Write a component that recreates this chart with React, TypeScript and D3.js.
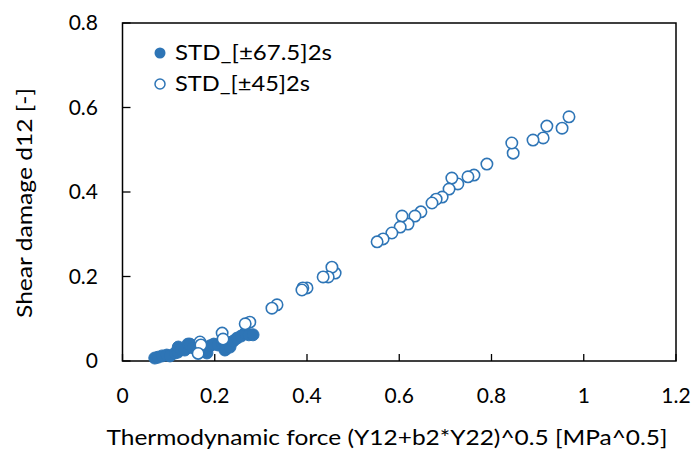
import React from "react";
import * as d3 from "d3";

const seriesNames = ["STD_[±67.5]2s", "STD_[±45]2s"];

// STD_[±67.5]2s (filled)
const filledX = [0.070, 0.077, 0.086, 0.096, 0.103, 0.114, 0.120, 0.121, 0.127, 0.135, 0.142, 0.146, 0.153, 0.168, 0.181, 0.183, 0.190, 0.198, 0.207, 0.216, 0.222, 0.224, 0.233, 0.240, 0.248, 0.257, 0.266, 0.274, 0.283];
const filledY = [0.007, 0.009, 0.012, 0.014, 0.012, 0.019, 0.021, 0.033, 0.028, 0.026, 0.040, 0.040, 0.031, 0.024, 0.028, 0.019, 0.036, 0.040, 0.038, 0.040, 0.026, 0.028, 0.033, 0.047, 0.054, 0.059, 0.066, 0.062, 0.062];

// STD_[±45]2s (open)
const openX = [0.968, 0.953, 0.920, 0.912, 0.890, 0.847, 0.844, 0.790, 0.762, 0.749, 0.727, 0.714, 0.708, 0.693, 0.680, 0.671, 0.647, 0.634, 0.619, 0.606, 0.602, 0.584, 0.565, 0.552, 0.461, 0.454, 0.446, 0.435, 0.400, 0.391, 0.389, 0.335, 0.324, 0.276, 0.266, 0.216, 0.218, 0.168, 0.170, 0.164];
const openY = [0.578, 0.551, 0.556, 0.528, 0.523, 0.492, 0.516, 0.466, 0.440, 0.436, 0.419, 0.433, 0.407, 0.388, 0.383, 0.374, 0.353, 0.343, 0.324, 0.343, 0.317, 0.303, 0.289, 0.282, 0.208, 0.222, 0.199, 0.199, 0.173, 0.173, 0.168, 0.133, 0.125, 0.092, 0.088, 0.066, 0.052, 0.045, 0.038, 0.018];

const xTicks = [0, 0.2, 0.4, 0.6, 0.8, 1, 1.2];
const yTicks = [0, 0.2, 0.4, 0.6, 0.8];

const xTitle = "Thermodynamic force (Y12+b2*Y22)^0.5 [MPa^0.5]";
const yTitle = "Shear damage d12 [-]";

const BLUE = "#2E75B6";
const FONT = "Lato, 'Open Sans', sans-serif";

export default function App() {
  const W = 692, H = 456;
  const x = d3.scaleLinear().domain([0, 1.2]).range([122.5, 676]);
  const y = d3.scaleLinear().domain([0, 0.8]).range([361, 23]);
  const fmt = (v: number) => String(+v.toFixed(1));
  const [x0, x1] = x.range();
  const [y0, y1] = y.range();

  return (
    <svg width={W} height={H} style={{ position: "absolute", left: 0, top: 0, background: "#fff" }} fontFamily={FONT}>
      <rect x={0} y={0} width={W} height={H} fill="#fff" />
      {/* frame */}
      <rect x={x0} y={y1} width={x1 - x0} height={y0 - y1} fill="none" stroke="#000" strokeWidth={1.5} />
      {/* ticks */}
      {xTicks.map((t, i) => (
        <g key={"xt" + i}>
          <line x1={x(t)} x2={x(t)} y1={y0} y2={y0 - 7} stroke="#000" strokeWidth={1.3} />
          <text x={x(t)} y={y0 + 42} fontSize={21} textAnchor="middle" fill="#000">{fmt(t)}</text>
        </g>
      ))}
      {yTicks.map((t, i) => (
        <g key={"yt" + i}>
          <line x1={x0} x2={x0 + 8} y1={y(t)} y2={y(t)} stroke="#000" strokeWidth={1.3} />
          <text x={98} y={y(t)} dy="0.35em" fontSize={21} textAnchor="end" fill="#000">{fmt(t)}</text>
        </g>
      ))}
      {/* axis titles */}
      <text x={387} y={445} fontSize={21} textAnchor="middle" fill="#000" textLength={561} lengthAdjust="spacingAndGlyphs">{xTitle}</text>
      <text transform={`translate(32,203) rotate(-90)`} fontSize={21} textAnchor="middle" fill="#000" textLength={230} lengthAdjust="spacingAndGlyphs">{yTitle}</text>
      {/* series */}
      <g>
        {filledX.map((v, i) => (
          <circle key={"f" + i} cx={x(v)} cy={y(filledY[i])} r={6} fill={BLUE} stroke={BLUE} strokeWidth={1} />
        ))}
      </g>
      <g>
        {openX.map((v, i) => (
          <circle key={"o" + i} cx={x(v)} cy={y(openY[i])} r={5.7} fill="#fff" stroke={BLUE} strokeWidth={1.6} />
        ))}
      </g>
      {/* legend */}
      <circle cx={160} cy={53} r={5.5} fill={BLUE} />
      <text x={175} y={53} dy="0.35em" fontSize={21} fill="#000" textLength={157} lengthAdjust="spacingAndGlyphs">{seriesNames[0]}</text>
      <circle cx={160} cy={84} r={5} fill="#fff" stroke={BLUE} strokeWidth={1.5} />
      <text x={175} y={84} dy="0.35em" fontSize={21} fill="#000" textLength={135} lengthAdjust="spacingAndGlyphs">{seriesNames[1]}</text>
    </svg>
  );
}
